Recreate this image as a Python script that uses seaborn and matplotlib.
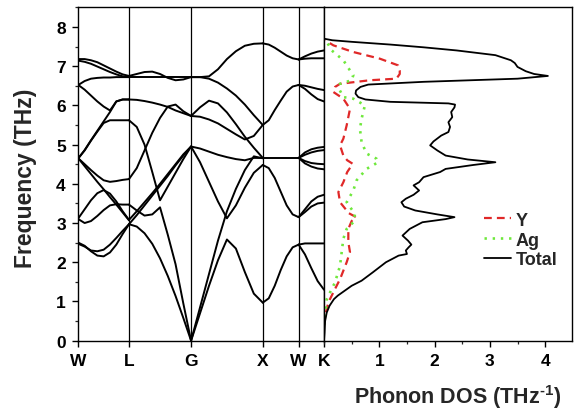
import numpy as np
import pandas as pd
import matplotlib
matplotlib.use("Agg")
import matplotlib.pyplot as plt
from matplotlib.ticker import MultipleLocator
import seaborn as sns

# ---------------- data ----------------
k_labels = ["W", "L", "G", "X", "W", "K"]
k_nodes = [0.0, 0.707, 1.573, 2.573, 3.073, 3.427]

# phonon branches per path segment (THz), sampled evenly along each segment
band_WL = [
    [7.18, 7.18, 7.15, 7.10, 7.02, 6.94, 6.86, 6.79, 6.75],
    [7.14, 7.11, 7.06, 6.99, 6.92, 6.85, 6.79, 6.74, 6.72],
    [6.52, 6.62, 6.68, 6.70, 6.71, 6.71, 6.72, 6.72, 6.72],
    [6.52, 6.40, 6.25, 6.10, 5.97, 5.87, 6.10, 6.15, 6.15],
    [4.65, 4.86, 5.11, 5.35, 5.59, 5.83, 6.10, 6.15, 6.15],
    [4.65, 4.85, 5.10, 5.33, 5.55, 5.62, 5.62, 5.62, 5.62],
    [4.65, 4.50, 4.35, 4.21, 4.09, 4.05, 4.07, 4.10, 4.12],
    [4.65, 4.45, 4.25, 4.05, 3.86, 3.66, 3.47, 3.27, 3.07],
    [3.12, 3.35, 3.58, 3.76, 3.84, 3.75, 3.55, 3.30, 3.08],
    [3.10, 3.00, 3.05, 3.18, 3.33, 3.45, 3.48, 3.47, 3.47],
    [2.50, 2.42, 2.28, 2.17, 2.15, 2.25, 2.45, 2.72, 2.97],
    [2.47, 2.40, 2.30, 2.28, 2.32, 2.45, 2.62, 2.80, 2.97],
]
band_LG = [
    [6.75, 6.80, 6.85, 6.86, 6.80, 6.70, 6.64, 6.66, 6.72],
    [6.72, 6.72, 6.72, 6.72, 6.72, 6.72, 6.72, 6.72, 6.72],
    [6.15, 6.14, 6.11, 6.07, 6.02, 5.96, 5.87, 5.80, 5.73],
    [4.12, 4.40, 4.85, 5.30, 5.68, 5.97, 6.02, 5.85, 5.73],
    [5.62, 5.45, 5.00, 4.30, 3.58, 3.93, 4.28, 4.63, 4.95],
    [3.08, 3.30, 3.53, 3.76, 4.00, 4.25, 4.50, 4.75, 4.95],
    [2.97, 3.20, 3.45, 3.70, 3.95, 4.20, 4.47, 4.72, 4.95],
    [3.47, 3.32, 3.19, 3.22, 3.40, 2.70, 1.95, 0.95, 0.00],
    [2.97, 2.91, 2.74, 2.47, 2.10, 1.65, 1.14, 0.58, 0.00],
]
band_GX = [
    [6.72, 6.72, 6.74, 6.92, 7.18, 7.38, 7.52, 7.57, 7.58],
    [6.72, 6.72, 6.68, 6.58, 6.43, 6.25, 6.02, 5.75, 5.50],
    [5.73, 5.95, 6.12, 6.05, 5.82, 5.52, 5.20, 4.92, 4.66],
    [5.73, 5.71, 5.64, 5.54, 5.40, 5.26, 5.13, 5.22, 5.50],
    [4.95, 4.90, 4.82, 4.74, 4.68, 4.63, 4.60, 4.66, 4.66],
    [4.95, 4.55, 4.05, 3.55, 3.12, 3.45, 3.90, 4.28, 4.48],
    [0.00, 0.85, 1.70, 2.55, 3.30, 3.87, 4.35, 4.70, 4.65],
    [0.00, 0.70, 1.40, 2.05, 2.58, 2.35, 1.75, 1.20, 0.97],
]
band_XW = [
    [7.58, 7.55, 7.47, 7.37, 7.27, 7.20, 7.17],
    [5.50, 5.62, 5.88, 6.12, 6.35, 6.48, 6.52],
    [4.66, 4.66, 4.66, 4.66, 4.66, 4.66, 4.66],
    [4.48, 4.40, 4.15, 3.80, 3.45, 3.22, 3.15],
    [0.97, 1.08, 1.40, 1.80, 2.15, 2.38, 2.45],
]
band_WK = [
    [7.17, 7.25, 7.32, 7.37, 7.40],
    [7.17, 7.19, 7.20, 7.20, 7.20],
    [6.52, 6.50, 6.46, 6.42, 6.39],
    [6.52, 6.42, 6.28, 6.16, 6.10],
    [4.66, 4.80, 4.88, 4.92, 4.94],
    [4.66, 4.74, 4.80, 4.84, 4.86],
    [4.66, 4.58, 4.53, 4.51, 4.50],
    [4.66, 4.52, 4.44, 4.39, 4.37],
    [3.15, 3.35, 3.55, 3.67, 3.72],
    [3.15, 3.28, 3.42, 3.50, 3.52],
    [2.45, 2.48, 2.48, 2.48, 2.48],
    [2.45, 2.20, 1.85, 1.52, 1.30],
]

# phonon DOS (THz^-1) versus frequency (THz)
total_freq = [0.00, 0.20, 0.50, 0.72, 0.89, 1.06, 1.15, 1.32, 1.40, 1.53, 1.74, 2.00,
              2.17, 2.21, 2.30, 2.38, 2.45, 2.55, 2.68, 2.85, 3.02, 3.10, 3.15, 3.22,
              3.32, 3.42, 3.53, 3.62, 3.72, 3.83, 3.96, 4.04, 4.17, 4.30, 4.38, 4.48,
              4.55, 4.62, 4.72, 4.85, 4.98, 5.08, 5.23, 5.32, 5.45, 5.57, 5.70, 5.83,
              5.95, 6.02, 6.05, 6.09, 6.15, 6.21, 6.30, 6.38, 6.47, 6.53, 6.60, 6.68,
              6.75, 6.80, 6.87, 6.98, 7.08, 7.15, 7.28, 7.40, 7.48, 7.55, 7.62, 7.66, 7.70]
total_dos = [0.00, 0.01, 0.02, 0.05, 0.10, 0.18, 0.25, 0.42, 0.50, 0.68, 0.88, 1.12,
             1.35, 1.50, 1.48, 1.53, 1.58, 1.52, 1.42, 1.55, 1.78, 2.20, 2.36, 2.05,
             1.65, 1.45, 1.40, 1.48, 1.62, 1.72, 1.62, 1.72, 1.80, 2.10, 2.20, 2.70,
             3.10, 2.60, 2.20, 2.05, 1.92, 1.98, 2.12, 2.25, 2.28, 2.25, 2.32, 2.30,
             2.36, 2.37, 2.25, 1.20, 0.75, 0.62, 0.57, 0.58, 0.66, 0.80, 1.80, 3.50,
             4.05, 3.80, 3.65, 3.50, 3.45, 3.38, 3.10, 2.40, 1.80, 1.20, 0.50, 0.15, 0.00]
y_freq = [0.40, 0.70, 0.98, 1.32, 1.57, 2.00, 2.26, 2.51, 2.85, 3.05, 3.15, 3.25,
          3.53, 3.79, 4.04, 4.30, 4.51, 4.60, 4.72, 4.98, 5.15, 5.49, 5.91, 6.17,
          6.34, 6.47, 6.55, 6.64, 6.68, 6.80, 6.89, 7.02, 7.19, 7.36, 7.53, 7.66]
y_dos = [0.00, 0.03, 0.08, 0.20, 0.29, 0.41, 0.47, 0.44, 0.44, 0.50, 0.58, 0.45,
         0.29, 0.26, 0.35, 0.42, 0.52, 0.42, 0.35, 0.29, 0.35, 0.41, 0.47, 0.35,
         0.17, 0.20, 0.29, 0.83, 1.31, 1.37, 1.37, 1.34, 1.01, 0.53, 0.17, 0.02]
ag_freq = [0.40, 1.06, 1.49, 1.91, 2.26, 2.60, 2.85, 3.02, 3.23, 3.53, 3.83, 4.09,
           4.38, 4.55, 4.64, 4.77, 5.06, 5.40, 5.66, 6.00, 6.17, 6.21, 6.40, 6.55,
           6.64, 6.77, 6.89, 7.15, 7.40, 7.62]
ag_dos = [0.00, 0.05, 0.20, 0.29, 0.32, 0.35, 0.41, 0.53, 0.56, 0.41, 0.53, 0.59,
          0.77, 0.98, 0.95, 0.77, 0.68, 0.65, 0.68, 0.74, 0.53, 0.35, 0.28, 0.29,
          0.50, 0.53, 0.47, 0.35, 0.14, 0.05]

# ---------------- style ----------------
sns.set_style("ticks")
plt.rcParams["font.family"] = ["Liberation Sans", "DejaVu Sans"]
plt.rcParams["font.weight"] = "bold"
plt.rcParams["mathtext.fontset"] = "custom"
plt.rcParams["mathtext.rm"] = "Liberation Sans:bold"
plt.rcParams["mathtext.bf"] = "Liberation Sans:bold"
plt.rcParams["mathtext.it"] = "Liberation Sans:bold"
plt.rcParams["mathtext.default"] = "bf"

W, H = 574, 414
fig = plt.figure(figsize=(W / 100, H / 100), dpi=100)
ax_bot, ax_top = 341.7, 8.3
ax1 = fig.add_axes([78.3 / W, (H - ax_bot) / H, (324 - 78.3) / W, (ax_bot - ax_top) / H])
ax2 = fig.add_axes([324 / W, (H - ax_bot) / H, (571.7 - 324) / W, (ax_bot - ax_top) / H])

# ---------------- band structure ----------------
segments = [band_WL, band_LG, band_GX, band_XW, band_WK]
rows = []
for si, seg in enumerate(segments):
    k0, k1 = k_nodes[si], k_nodes[si + 1]
    pos = np.linspace(k0, k1, len(seg[0]))
    for bi, br in enumerate(seg):
        for k, f in zip(pos, br):
            rows.append({"branch": f"{si}-{bi}", "k": k, "freq": f})
bands = pd.DataFrame(rows)
sns.lineplot(data=bands, x="k", y="freq", units="branch", estimator=None,
             sort=False, color="black", lw=1.4, ax=ax1, legend=False)
for k in k_nodes[1:-1]:
    ax1.axvline(k, color="black", lw=0.9)

ax1.set_xlim(k_nodes[0], k_nodes[-1])
ax1.set_ylim(0, 8.5)
ax1.set_xticks(k_nodes)
ax1.set_xticklabels(k_labels)
ax1.set_yticks(range(0, 9))
ax1.yaxis.set_minor_locator(MultipleLocator(0.5))
ax1.set_xlabel("")
ax1.set_ylabel("Frequency (THz)", fontsize=16.5, fontweight="bold")
ax1.yaxis.set_label_coords(-0.17, 0.49)

# ---------------- DOS ----------------
red, green = "#e02828", "#6fe83c"
sns.lineplot(x=y_dos, y=y_freq, sort=False, estimator=None, color=red, lw=1.6,
             ax=ax2, label="Y")
ax2.lines[-1].set_dashes((3.5, 2.3))
sns.lineplot(x=ag_dos, y=ag_freq, sort=False, estimator=None, color=green, lw=1.9,
             ax=ax2, label="Ag")
ax2.lines[-1].set_dashes((0.9, 2.2))
sns.lineplot(x=total_dos, y=total_freq, sort=False, estimator=None, color="black",
             lw=1.3, ax=ax2, label="Total")

ax2.set_xlim(0, 4.48)
ax2.set_ylim(0, 8.5)
ax2.set_xticks([1, 2, 3, 4])
ax2.xaxis.set_minor_locator(MultipleLocator(0.5))
ax2.set_yticks([])
ax2.set_ylabel("")
ax2.set_xlabel(r"Phonon DOS (THz$^{\text{-1}}$)", fontsize=15.5, fontweight="bold")
ax2.xaxis.set_label_coords(0.54, -0.125)
ax2.legend(loc="center left", bbox_to_anchor=(0.645, 0.302), frameon=False,
           fontsize=13, handlelength=1.5, handletextpad=0.25, labelspacing=0.15,
           borderpad=0, borderaxespad=0)

for ax in (ax1, ax2):
    for s in ax.spines.values():
        s.set_visible(True)
        s.set_linewidth(1.0)
        s.set_color("black")
    ax.tick_params(which="major", direction="out", length=4, width=1.0,
                   labelsize=12.5, pad=5, colors="black")
    ax.tick_params(which="minor", direction="out", length=2.5, width=0.9)
    for lab in ax.get_xticklabels() + ax.get_yticklabels():
        lab.set_fontweight("bold")
ax1.tick_params(axis="x", which="minor", length=0)

fig.savefig("out.png", dpi=100)
